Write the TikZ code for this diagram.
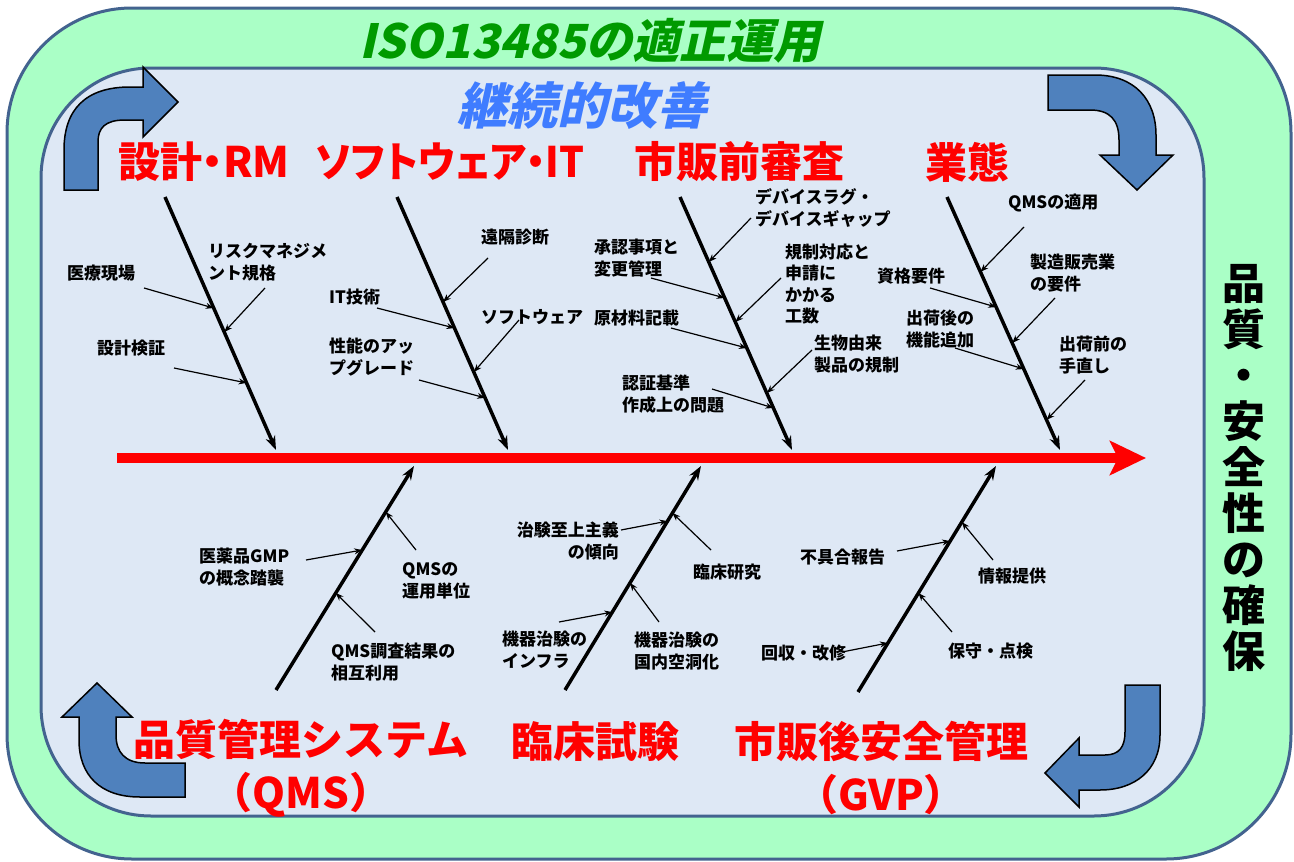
\documentclass[tikz,border=0pt]{standalone}
\usepackage{graphicx}
\usepackage{fontspec}
\setmainfont{Noto Sans CJK JP}
\newfontfamily\jpp{Noto Sans CJK JP}[RawFeature=+palt]
\newfontfamily\jpit{Noto Sans CJK JP}[FakeSlant=0.22, BoldFeatures={FakeSlant=0.22}]
\usetikzlibrary{arrows.meta,calc}
\definecolor{outerg}{HTML}{AAFFC6}
\definecolor{innerb}{HTML}{DEE8F5}
\definecolor{bordc}{HTML}{43638F}
\definecolor{arrb}{HTML}{4F81BD}
\definecolor{titleg}{HTML}{009A00}
\definecolor{titleb}{HTML}{3F7CFF}
\tikzset{
  lbl/.style={font=\bfseries\fontsize{17}{21.5}\selectfont, align=left, inner sep=0pt, anchor=west},
  lblr/.style={font=\bfseries\fontsize{17}{21.5}\selectfont, align=right, inner sep=0pt, anchor=east},
  bone/.style={line width=3.5pt, -{Stealth[length=14pt,width=10pt]}},
  sub/.style={line width=1.2pt, -{Stealth[length=8pt,width=6pt]}},
  cat/.style={font=\bfseries\fontsize{42}{53}\selectfont, text=red, align=center, inner sep=0pt},
  curv/.style={fill=arrb, draw=black, line width=1.5pt, line join=miter},
}
\begin{document}
\begin{tikzpicture}[x=1pt,y=-1pt]
\useasboundingbox (0,0) rectangle (1294,862);
% frames
\path[fill=outerg, draw=bordc, line width=3pt, rounded corners=125pt] (7,8) rectangle (1291,859);
\path[fill=innerb, draw=bordc, line width=3pt, rounded corners=110pt] (41,68) rectangle (1204,816);

% titles
\node[font=\jpit\bfseries\fontsize{47}{54}\selectfont, text=titleg, inner sep=0pt] (iso) at (590,41) {ISO13485の適正運用};
\node[font=\jpit\bfseries\fontsize{50}{58}\selectfont, text=titleb, inner sep=0pt] (kaizen) at (582,106) {継続的改善};

% curved arrows
\path[curv] (64,190) -- (64,150) .. controls (64,110) and (85,87) .. (130,87) -- (143,87) -- (143,67) -- (178,102) -- (143,137) -- (143,120) -- (125,120) .. controls (105,120) and (98,128) .. (98,142) -- (98,190) -- cycle;
\path[curv] (1048,75) -- (1095,75) .. controls (1135,75) and (1156,100) .. (1156,135) -- (1156,155) -- (1173,155) -- (1137,190) -- (1100,155) -- (1119,155) -- (1119,140) .. controls (1119,120) and (1110,110) .. (1090,110) -- (1048,110) -- cycle;
\path[curv] (97,683) -- (132,717) -- (116,717) -- (116,735) .. controls (116,752) and (125,763) .. (145,763) -- (185,763) -- (185,797) -- (140,797) .. controls (100,797) and (79,775) .. (79,740) -- (79,717) -- (62,717) -- cycle;
\path[curv] (1125,685) -- (1160,685) -- (1160,735) .. controls (1160,770) and (1135,790) .. (1100,790) -- (1079,790) -- (1079,807) -- (1045,773) -- (1079,738) -- (1079,755) -- (1105,755) .. controls (1119,755) and (1125,747) .. (1125,732) -- cycle;

% category labels
\node[cat, font=\jpp\bfseries\fontsize{42}{53}\selectfont] (c1) at (204,162) {設計・RM};
\node[cat, font=\jpp\bfseries\fontsize{42}{53}\selectfont] (c2) at (450,162) {\scalebox{0.93}[1]{ソフトウェア・IT}};
\node[cat] (c3) at (739,162) {市販前審査};
\node[cat] (c4) at (967,162) {業態};
\node[cat] (c5) at (301,768) {品質管理システム\\（QMS）};
\node[cat] (c6) at (595,742) {臨床試験};
\node[cat] (c7) at (881,768) {市販後安全管理\\（GVP）};

% right vertical text
\node[font=\bfseries\fontsize{43}{46}\selectfont, align=center, inner sep=0pt] (vt) at (1244,468) {品\\質\\・\\安\\全\\性\\の\\確\\保};

% spine
\coordinate (sp0) at (117,458);
\coordinate (sp1) at (1146,458);
\draw[line width=10pt, red, -{Stealth[length=36pt,width=34pt,inset=8pt]}] (sp0) -- (sp1);

% bones
\coordinate (t1s) at (165,197); \coordinate (t1e) at (276,450);
\coordinate (t2s) at (397,197); \coordinate (t2e) at (508,450);
\coordinate (t3s) at (680,197); \coordinate (t3e) at (792,450);
\coordinate (t4s) at (947,197); \coordinate (t4e) at (1060,450);
\coordinate (b1s) at (276,690); \coordinate (b1e) at (414,466);
\coordinate (b2s) at (565,690); \coordinate (b2e) at (701,466);
\coordinate (b3s) at (858,692); \coordinate (b3e) at (996,466);
\foreach \b in {t1,t2,t3,t4,b1,b2,b3} \draw[bone] (\b s) -- (\b e);

% labels top bone 1
\node[lbl] (l11) at (67,273) {医療現場};
\node[lbl] (l12) at (208,262) {リスクマネジメ\\ント規格};
\node[lbl] (l13) at (97,348) {設計検証};
\coordinate (a11) at (144,288); \coordinate (a12) at (265,288); \coordinate (a13) at (174,368);
\draw[sub] (a11) -- ($(t1s)!0.439!(t1e)$);
\draw[sub] (a12) -- ($(t1s)!0.534!(t1e)$);
\draw[sub] (a13) -- ($(t1s)!0.735!(t1e)$);

% top bone 2
\node[lbl] (l21) at (481,237) {遠隔診断};
\node[lbl] (l22) at (329,297) {IT技術};
\node[lbl] (l23) at (481,317) {ソフトウェア};
\node[lbl] (l24) at (329,357) {性能のアッ\\プグレード};
\coordinate (a21) at (488,258); \coordinate (a22) at (377,308); \coordinate (a23) at (519,320); \coordinate (a24) at (419,380);
\draw[sub] (a21) -- ($(t2s)!0.415!(t2e)$);
\draw[sub] (a22) -- ($(t2s)!0.518!(t2e)$);
\draw[sub] (a23) -- ($(t2s)!0.692!(t2e)$);
\draw[sub] (a24) -- ($(t2s)!0.794!(t2e)$);

% top bone 3
\node[lbl] (l31) at (755,208) {デバイスラグ・\\デバイスギャップ};
\node[lbl] (l32) at (594,258) {承認事項と\\変更管理};
\node[lbl] (l33) at (785,284) {規制対応と\\申請に\\かかる\\工数};
\node[lbl] (l34) at (594,318) {原材料記載};
\node[lbl] (l35) at (814,354) {生物由来\\製品の規制};
\node[lbl] (l36) at (622,394) {認証基準\\作成上の問題};
\coordinate (a31) at (751,218); \coordinate (a32) at (651,278); \coordinate (a33) at (781,278);
\coordinate (a34) at (671,328); \coordinate (a35) at (812,350); \coordinate (a36) at (712,389);
\draw[sub] (a31) -- ($(t3s)!0.257!(t3e)$);
\draw[sub] (a32) -- ($(t3s)!0.399!(t3e)$);
\draw[sub] (a33) -- ($(t3s)!0.494!(t3e)$);
\draw[sub] (a34) -- ($(t3s)!0.597!(t3e)$);
\draw[sub] (a35) -- ($(t3s)!0.775!(t3e)$);
\draw[sub] (a36) -- ($(t3s)!0.834!(t3e)$);

% top bone 4
\node[lbl] (l41) at (1008,203) {QMSの適用};
\node[lbl] (l42) at (877,276) {資格要件};
\node[lbl] (l43) at (1030,273) {製造販売業\\の要件};
\node[lbl] (l44) at (906,329) {出荷後の\\機能追加};
\node[lbl] (l45) at (1059,355) {出荷前の\\手直し};
\coordinate (a41) at (1024,227); \coordinate (a42) at (930,288); \coordinate (a43) at (1055,298);
\coordinate (a44) at (955,348); \coordinate (a45) at (1085,380);
\draw[sub] (a41) -- ($(t4s)!0.296!(t4e)$);
\draw[sub] (a42) -- ($(t4s)!0.435!(t4e)$);
\draw[sub] (a43) -- ($(t4s)!0.577!(t4e)$);
\draw[sub] (a44) -- ($(t4s)!0.680!(t4e)$);
\draw[sub] (a45) -- ($(t4s)!0.881!(t4e)$);

% bottom bone 1
\node[lbl] (m11) at (199,567) {医薬品GMP\\の概念踏襲};
\node[lbl] (m12) at (402,581) {QMSの\\運用単位};
\node[lbl] (m13) at (331,662) {QMS調査結果の\\相互利用};
\coordinate (d11) at (306,560); \coordinate (d12) at (416,550); \coordinate (d13) at (375,632);
\draw[sub] (d11) -- ($(b1s)!0.625!(b1e)$);
\draw[sub] (d12) -- ($(b1s)!0.795!(b1e)$);
\draw[sub] (d13) -- ($(b1s)!0.433!(b1e)$);

% bottom bone 2
\node[lblr] (m21) at (619,541) {治験至上主義\\の傾向};
\node[lbl] (m22) at (693,572) {臨床研究};
\node[lbl] (m23) at (502,650) {機器治験の\\インフラ};
\node[lbl] (m24) at (634,651) {機器治験の\\国内空洞化};
\coordinate (d21) at (621,530); \coordinate (d22) at (711,550); \coordinate (d23) at (559,622); \coordinate (d24) at (659,622);
\draw[sub] (d21) -- ($(b2s)!0.754!(b2e)$);
\draw[sub] (d22) -- ($(b2s)!0.790!(b2e)$);
\draw[sub] (d23) -- ($(b2s)!0.348!(b2e)$);
\draw[sub] (d24) -- ($(b2s)!0.478!(b2e)$);

% bottom bone 3
\node[lbl] (m31) at (800,557) {不具合報告};
\node[lbl] (m32) at (978,576) {情報提供};
\node[lbl] (m33) at (761,653) {回収・改修};
\node[lbl] (m34) at (948,651) {保守・点検};
\coordinate (d31) at (897,551); \coordinate (d32) at (993,560); \coordinate (d33) at (842,652); \coordinate (d34) at (952,632);
\draw[sub] (d31) -- ($(b3s)!0.668!(b3e)$);
\draw[sub] (d32) -- ($(b3s)!0.752!(b3e)$);
\draw[sub] (d33) -- ($(b3s)!0.217!(b3e)$);
\draw[sub] (d34) -- ($(b3s)!0.438!(b3e)$);
\end{tikzpicture}
\end{document}
